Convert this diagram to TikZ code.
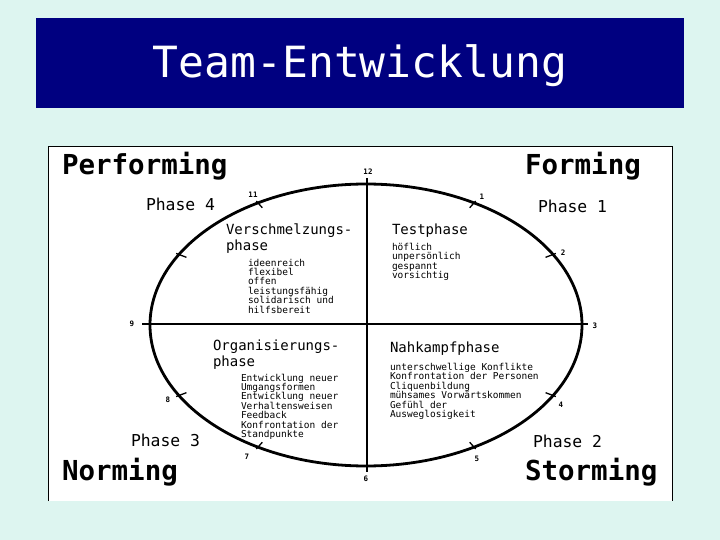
\documentclass[tikz,border=0pt]{standalone}
\usepackage{fontspec}
\setmonofont{DejaVu Sans Mono}
\usetikzlibrary{calc}
\definecolor{bgc}{RGB}{221,245,240}
\definecolor{navy}{RGB}{0,0,128}
\begin{document}
\begin{tikzpicture}[x=1pt,y=-1pt,
  every node/.style={inner sep=0pt, outer sep=0pt, font=\ttfamily},
  big/.style={anchor=base west, font=\ttfamily\bfseries\fontsize{27.5}{30}\selectfont},
  phaselbl/.style={anchor=base west, font=\ttfamily\fontsize{16.4}{18}\selectfont},
  sublbl/.style={anchor=base west, font=\ttfamily\fontsize{14}{16}\selectfont},
  itemlbl/.style={anchor=base west, font=\ttfamily\fontsize{9.5}{9.5}\selectfont},
  hourlbl/.style={font=\ttfamily\bfseries\fontsize{7.5}{8}\selectfont},
  axis/.style={line width=1.3pt},
  ring/.style={line width=2.8pt},
  tickmark/.style={line width=1.3pt}]
\fill[bgc] (0,0) rectangle (720,540);
\useasboundingbox (0,0) rectangle (720,540);
% title
\fill[navy] (36,18) rectangle (684,108);
\node[anchor=base, text=white, font=\ttfamily\fontsize{43}{48}\selectfont] (title) at (360,78) {Team-Entwicklung};
% panel
\fill[white] (48,146) rectangle (672,501);
\draw[line width=0.8pt] (48,501) -- (48,146) -- (672,146) -- (672,501);
% axes and ellipse
\coordinate (C) at (366,325);
\coordinate (axT) at (367,178);
\coordinate (axB) at (367,472);
\coordinate (axL) at (142,324);
\coordinate (axR) at (588,324);
\draw[axis] (axT) -- (axB);
\draw[axis] (axL) -- (axR);
\draw[ring] (C) ellipse [x radius=216pt, y radius=141pt];
\foreach \h in {1,2,4,5,7,8,10,11} {
  \pgfmathsetmacro\px{366+216*cos(90-30*\h)}
  \pgfmathsetmacro\py{325-141*sin(90-30*\h)}
  \coordinate (h\h) at (\px,\py);
  \draw[tickmark] ($(C)!0.96!(h\h)$) -- ($(C)!1.015!(h\h)$);
}
% hour labels
\node[hourlbl] (n12) at (368,172) {12};
\node[hourlbl] (n1) at (482,197) {1};
\node[hourlbl] (n2) at (563,253) {2};
\node[hourlbl] (n3) at (595,326) {3};
\node[hourlbl] (n4) at (561,405) {4};
\node[hourlbl] (n5) at (477,459) {5};
\node[hourlbl] (n6) at (366,479) {6};
\node[hourlbl] (n7) at (247,457) {7};
\node[hourlbl] (n8) at (168,400) {8};
\node[hourlbl] (n9) at (132,324) {9};
\node[hourlbl] (n11) at (253,195) {11};
% corner labels
\node[big] (perf) at (62,175) {Performing};
\node[big] (form) at (525,175) {Forming};
\node[big] (norm) at (62,480) {Norming};
\node[big] (storm) at (525,480) {Storming};
\node[phaselbl] (ph4) at (146,211) {Phase 4};
\node[phaselbl] (ph1) at (538,212) {Phase 1};
\node[phaselbl] (ph3) at (131,446) {Phase 3};
\node[phaselbl] (ph2) at (533,447) {Phase 2};
% quadrant headings
\node[sublbl] (v1) at (226,235) {Verschmelzungs-};
\node[sublbl] (v2) at (226,250) {phase};
\node[sublbl] (t1) at (392,235) {Testphase};
\node[sublbl] (o1) at (213,350) {Organisierungs-};
\node[sublbl] (o2) at (213,366) {phase};
\node[sublbl] (k1) at (390,352) {Nahkampfphase};
% lists
\foreach \t [count=\i] in {ideenreich,flexibel,offen,leistungsfähig,solidarisch und,hilfsbereit}
  \node[itemlbl] (va\i) at (248,{266+9.4*(\i-1)}) {\t};
\foreach \t [count=\i] in {höflich,unpersönlich,gespannt,vorsichtig}
  \node[itemlbl] (ta\i) at (392,{250+9.6*(\i-1)}) {\t};
\foreach \t [count=\i] in {Entwicklung neuer,Umgangsformen,Entwicklung neuer,Verhaltensweisen,Feedback,Konfrontation der,Standpunkte}
  \node[itemlbl] (oa\i) at (241,{381+9.4*(\i-1)}) {\t};
\foreach \t [count=\i] in {unterschwellige Konflikte,Konfrontation der Personen,Cliquenbildung,mühsames Vorwärtskommen,Gefühl der,Ausweglosigkeit}
  \node[itemlbl] (ka\i) at (390,{370+9.5*(\i-1)}) {\t};
\end{tikzpicture}
\end{document}
